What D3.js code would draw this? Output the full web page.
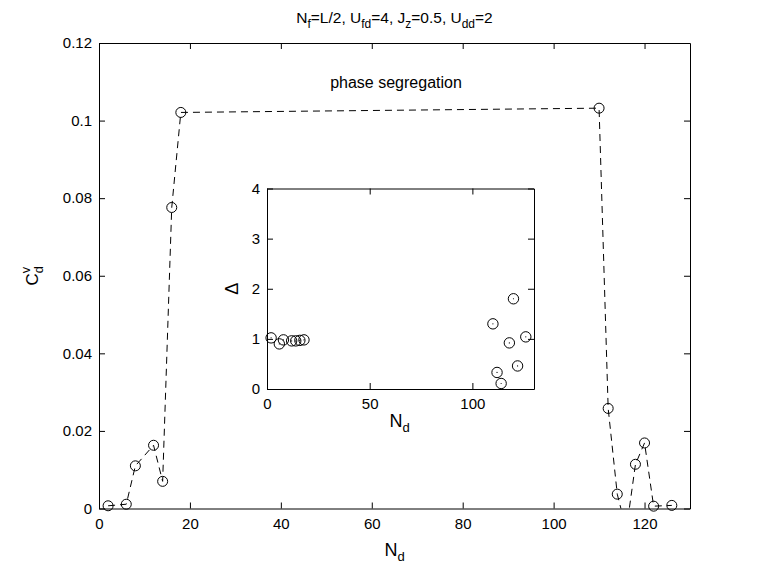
<!DOCTYPE html>
<html>
<head>
<meta charset="utf-8">
<script src="https://cdn.jsdelivr.net/npm/d3@7"></script>
<style>
  body { margin: 0; background: #fff; }
  svg { display: block; font-family: "Liberation Sans", Arial, sans-serif; }
  .axis path, .axis line { stroke: #000; }
  .axis text { font-size: 15px; fill: #000; }
</style>
</head>
<body>
<div id="chart"></div>
<script>
// main panel: C_d^v against N_d
const nd = [2, 6, 8, 12, 14, 16, 18, 110, 112, 114, 116, 118, 120, 122, 126];
const cdv = [0.0007, 0.0011, 0.011, 0.0163, 0.007, 0.0776, 0.1021, 0.1032,
  0.0258, 0.0037, -0.0055, 0.0114, 0.0169, 0.0006, 0.0008];

// inset: Delta against N_d
const ndInset = [2, 6, 8, 12, 14, 16, 18, 110, 112, 114, 118, 120, 122, 126];
const delta = [1.02, 0.9, 0.98, 0.96, 0.96, 0.97, 0.98, 1.30, 0.33, 0.11, 0.92, 1.80, 0.46, 1.04];

const xTicks = [0, 20, 40, 60, 80, 100, 120];
const yTicks = [0, 0.02, 0.04, 0.06, 0.08, 0.1, 0.12];
const xTicksInset = [0, 50, 100];
const yTicksInset = [0, 1, 2, 3, 4];

const W = 763, H = 574;
const M = { left: 99, top: 43, right: 690, bottom: 508.5 };
const IN = { left: 267, top: 188.5, right: 534, bottom: 389 };

const svg = d3.select('#chart').append('svg')
  .attr('width', W)
  .attr('height', H);

const x = d3.scaleLinear().domain([0, 130]).range([M.left, M.right]);
const y = d3.scaleLinear().domain([0, 0.12]).range([M.bottom, M.top]);

svg.append('clipPath').attr('id', 'clipMain')
  .append('rect')
  .attr('x', M.left).attr('y', M.top)
  .attr('width', M.right - M.left).attr('height', M.bottom - M.top);

function boxAxes(g, xs, ys, xt, yt, xpad, ypad) {
  const r = xs.range(), b = ys.range();
  g.append('g').attr('class', 'axis')
    .attr('transform', `translate(0,${b[0]})`)
    .call(d3.axisBottom(xs).tickValues(xt).tickSizeInner(-6).tickSizeOuter(0)
      .tickPadding(xpad).tickFormat(d => String(d)));
  g.append('g').attr('class', 'axis')
    .attr('transform', `translate(0,${b[1]})`)
    .call(d3.axisTop(xs).tickValues(xt).tickSizeInner(-6).tickSizeOuter(0).tickFormat(''));
  g.append('g').attr('class', 'axis')
    .attr('transform', `translate(${r[0]},0)`)
    .call(d3.axisLeft(ys).tickValues(yt).tickSizeInner(-6).tickSizeOuter(0)
      .tickPadding(ypad).tickFormat(d => String(+d.toFixed(2))));
  g.append('g').attr('class', 'axis')
    .attr('transform', `translate(${r[1]},0)`)
    .call(d3.axisRight(ys).tickValues(yt).tickSizeInner(-6).tickSizeOuter(0).tickFormat(''));
}

boxAxes(svg.append('g'), x, y, xTicks, yTicks, 10, 7);

const mainData = nd.map((d, i) => ({ x: d, y: cdv[i] }));

svg.append('path')
  .datum(mainData)
  .attr('clip-path', 'url(#clipMain)')
  .attr('fill', 'none')
  .attr('stroke', '#000')
  .attr('stroke-width', 1)
  .attr('stroke-dasharray', '7,5')
  .attr('d', d3.line().x(d => x(d.x)).y(d => y(d.y)));

svg.append('g').selectAll('circle')
  .data(mainData.filter(d => d.y >= 0))
  .join('circle')
  .attr('cx', d => x(d.x))
  .attr('cy', d => y(d.y))
  .attr('r', 5)
  .attr('fill', 'none')
  .attr('stroke', '#000')
  .attr('stroke-width', 1);

// title
const title = svg.append('text')
  .attr('x', (M.left + M.right) / 2)
  .attr('y', 23)
  .attr('text-anchor', 'middle')
  .attr('font-size', 15.5);
[['N', 0], ['f', 1], ['=L/2, U', 0], ['fd', 1], ['=4, J', 0], ['z', 1],
 ['=0.5, U', 0], ['dd', 1], ['=2', 0]].forEach(([t, sub], i, arr) => {
  const prevSub = i > 0 ? arr[i - 1][1] : 0;
  title.append('tspan')
    .attr('font-size', sub ? 12 : 15.5)
    .attr('dy', sub && !prevSub ? 4.5 : (!sub && prevSub ? -4.5 : 0))
    .text(t);
});

svg.append('text')
  .attr('x', 396)
  .attr('y', 88)
  .attr('text-anchor', 'middle')
  .attr('font-size', 16)
  .text('phase segregation');

// x label
const xl = svg.append('text')
  .attr('x', (M.left + M.right) / 2)
  .attr('y', 556)
  .attr('text-anchor', 'middle')
  .attr('font-size', 18);
xl.append('tspan').text('N');
xl.append('tspan').attr('font-size', 13).attr('dy', 5).text('d');

// y label, C with stacked sub d and sup v
function stackedLabel(cx, cy, base, sub, sup, fs) {
  const g = svg.append('g').attr('transform', `translate(${cx},${cy}) rotate(-90)`);
  const t = g.append('text').attr('font-size', fs).text(base);
  const w = t.node().getComputedTextLength();
  const s1 = sub ? g.append('text').attr('font-size', fs * 0.75).attr('x', w).attr('y', 5).text(sub) : null;
  const s2 = sup ? g.append('text').attr('font-size', fs * 0.75).attr('x', w).attr('y', -8).text(sup) : null;
  const ws = Math.max(s1 ? s1.node().getComputedTextLength() : 0, s2 ? s2.node().getComputedTextLength() : 0);
  const shift = -(w + ws) / 2;
  g.selectAll('text').attr('transform', `translate(${shift},0)`);
}
stackedLabel(38, (M.top + M.bottom) / 2, 'C', 'd', 'v', 17);

// inset
const xi = d3.scaleLinear().domain([0, 130]).range([IN.left, IN.right]);
const yi = d3.scaleLinear().domain([0, 4]).range([IN.bottom, IN.top]);

svg.append('rect')
  .attr('x', IN.left).attr('y', IN.top)
  .attr('width', IN.right - IN.left).attr('height', IN.bottom - IN.top)
  .attr('fill', '#fff');

boxAxes(svg.append('g'), xi, yi, xTicksInset, yTicksInset, 9, 7);

const insetData = ndInset.map((d, i) => ({ x: d, y: delta[i] }));
const pts = svg.append('g').selectAll('g')
  .data(insetData)
  .join('g')
  .attr('transform', d => `translate(${xi(d.x)},${yi(d.y)})`);
pts.append('circle').attr('r', 5.2).attr('fill', 'none').attr('stroke', '#000').attr('stroke-width', 1);
pts.append('circle').attr('r', 0.6).attr('fill', '#000');

const xli = svg.append('text')
  .attr('x', (IN.left + IN.right) / 2 - 1)
  .attr('y', 427)
  .attr('text-anchor', 'middle')
  .attr('font-size', 18);
xli.append('tspan').text('N');
xli.append('tspan').attr('font-size', 13).attr('dy', 5).text('d');

svg.append('text')
  .attr('transform', `translate(238,${(IN.top + IN.bottom) / 2}) rotate(-90)`)
  .attr('text-anchor', 'middle')
  .attr('font-size', 18)
  .text('Δ');
</script>
</body>
</html>
